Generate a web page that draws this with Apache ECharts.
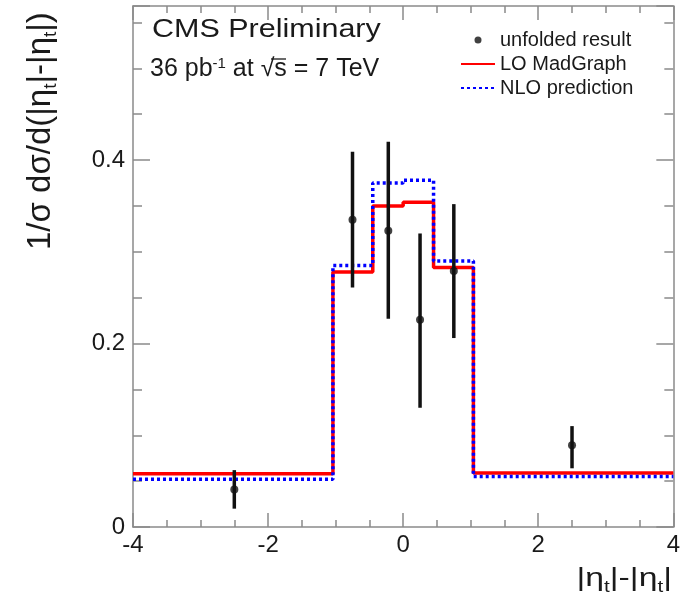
<!DOCTYPE html>
<html>
<head>
<meta charset="utf-8">
<script src="https://cdn.jsdelivr.net/npm/echarts@6/dist/echarts.min.js"></script>
<style>
html,body{margin:0;padding:0;background:#fff;}
#chart{width:683px;height:608px;}
</style>
</head>
<body>
<div id="chart"></div>
<script>
// bin edges and predictions (value held from edge i to edge i+1)
var binEdges = [-4, -1.04, -0.45, 0, 0.45, 1.04, 4];
var loMadGraph = [0.058, 0.278, 0.350, 0.354, 0.283, 0.059];
var nloPred = [0.052, 0.285, 0.375, 0.378, 0.290, 0.055];
// unfolded data points
var ptX = [-2.5, -0.75, -0.22, 0.25, 0.75, 2.5];
var ptY = [0.041, 0.335, 0.323, 0.226, 0.279, 0.089];
var errLo = [0.020, 0.261, 0.227, 0.130, 0.206, 0.064];
var errHi = [0.062, 0.409, 0.420, 0.320, 0.352, 0.110];
var xTicks = [-4, -2, 0, 2, 4];
var yTicks = [0, 0.2, 0.4];

function stepData(vals){
  var d = [];
  for (var i = 0; i < vals.length; i++) d.push([binEdges[i], vals[i]]);
  d.push([binEdges[binEdges.length - 1], vals[vals.length - 1]]);
  return d;
}

var font = 'Liberation Sans';
var axisCol = '#8a8a8a';
var txtCol = '#1a1a1a';
var chart = echarts.init(document.getElementById('chart'));

var pts = [], bars = [];
for (var i = 0; i < ptX.length; i++) {
  pts.push([ptX[i], ptY[i]]);
  bars.push([ptX[i], ptY[i], errLo[i], errHi[i]]);
}

function xAx(pos, show){
  return {
    type: 'value', position: pos, min: -4, max: 4, interval: 2,
    axisLine: {show: true, onZero: false, lineStyle: {color: axisCol, width: 1.5}},
    axisTick: {show: true, inside: true, length: 14, lineStyle: {color: axisCol, width: 1.5}},
    minorTick: {show: true, splitNumber: 4, length: 7, lineStyle: {color: axisCol, width: 1.5}},
    splitLine: {show: false},
    axisLabel: {show: show, fontFamily: font, fontSize: 24, color: txtCol, margin: 6,
      formatter: function(v){ return xTicks.indexOf(v) >= 0 ? String(v) : ''; }}
  };
}
function yAx(pos, show){
  return {
    type: 'value', position: pos, min: 0, max: 0.568, interval: 0.2,
    axisLine: {show: true, onZero: false, lineStyle: {color: axisCol, width: 1.5}},
    axisTick: {show: true, inside: true, length: 17, lineStyle: {color: axisCol, width: 1.5}},
    minorTick: {show: true, splitNumber: 4, length: 9, lineStyle: {color: axisCol, width: 1.5}},
    splitLine: {show: false},
    axisLabel: {show: show, fontFamily: font, fontSize: 24, color: txtCol, margin: 8, showMaxLabel: false,
      formatter: function(v){ var r = Math.round(v*10)/10; return yTicks.indexOf(r) >= 0 ? String(r) : ''; }}
  };
}

var option = {
  backgroundColor: '#fff',
  animation: false,
  grid: {left: 133, right: 9, top: 6, bottom: 81},
  xAxis: [xAx('bottom', true), xAx('top', false)],
  yAxis: [yAx('left', true), yAx('right', false)],
  legend: {
    orient: 'vertical', left: 455, top: 25, itemGap: 4,
    itemWidth: 34, itemHeight: 7,
    textStyle: {fontFamily: font, fontSize: 20, color: txtCol},
    data: [
      {name: 'unfolded result'},
      {name: 'LO MadGraph', itemStyle: {opacity: 0}},
      {name: 'NLO prediction', itemStyle: {opacity: 0}}
    ]
  },
  graphic: [
    {type: 'text', x: 152, y: 18, scaleX: 1.22, style: {text: 'CMS Preliminary', font: '25px "Liberation Sans"', fill: txtCol}},
    {type: 'text', x: 150, y: 56, scaleX: 1.0, style: {
      text: '{n|36 pb}{s|-1}{n| at √s = 7 TeV}',
      rich: {n: {fontFamily: font, fontSize: 25, fill: txtCol}, s: {fontFamily: font, fontSize: 15, fill: txtCol, padding: [0,0,12,0]}}}},
    {type: 'line', shape: {x1: 271, y1: 59, x2: 286, y2: 59}, style: {stroke: txtCol, lineWidth: 1.3}},
    {type: 'text', x: 672, y: 562, scaleX: 1.3, style: {
      text: '{n||η}{s|t}{n||-|η}{s|t}{n||}', align: 'right',
      rich: {n: {fontFamily: font, fontSize: 26, fill: txtCol}, s: {fontFamily: font, fontSize: 16, fill: txtCol, padding: [18,0,0,0]}}}},
    {type: 'text', x: 21, y: 250, rotation: Math.PI/2, style: {
      text: '{n|1/σ dσ/d(|η}{s|t}{n||-|η}{s|t}{n||)}',
      rich: {n: {fontFamily: font, fontSize: 33, fill: txtCol}, s: {fontFamily: font, fontSize: 19, fill: txtCol, padding: [20,0,0,0]}}}}
  ],
  series: [
    {
      name: 'LO MadGraph', type: 'line', step: 'end', data: stepData(loMadGraph),
      symbol: 'none', lineStyle: {color: '#ff0000', width: 3.5}, itemStyle: {color: '#ff0000'}, z: 2
    },
    {
      name: 'NLO prediction', type: 'line', step: 'end', data: stepData(nloPred),
      symbol: 'none', lineStyle: {color: '#0000ff', width: 3.5, type: [3, 3]}, itemStyle: {color: '#0000ff'}, z: 3
    },
    {
      type: 'custom', data: bars, z: 4,
      renderItem: function(params, api){
        var a = api.coord([api.value(0), api.value(2)]);
        var b = api.coord([api.value(0), api.value(3)]);
        return {type: 'line', shape: {x1: a[0], y1: a[1], x2: b[0], y2: b[1]}, style: {stroke: '#111', lineWidth: 3.5}};
      }
    },
    {
      name: 'unfolded result', type: 'scatter', data: pts, symbol: 'circle', symbolSize: 8,
      itemStyle: {color: '#111'}, z: 5
    }
  ]
};
chart.setOption(option);
</script>
</body>
</html>
